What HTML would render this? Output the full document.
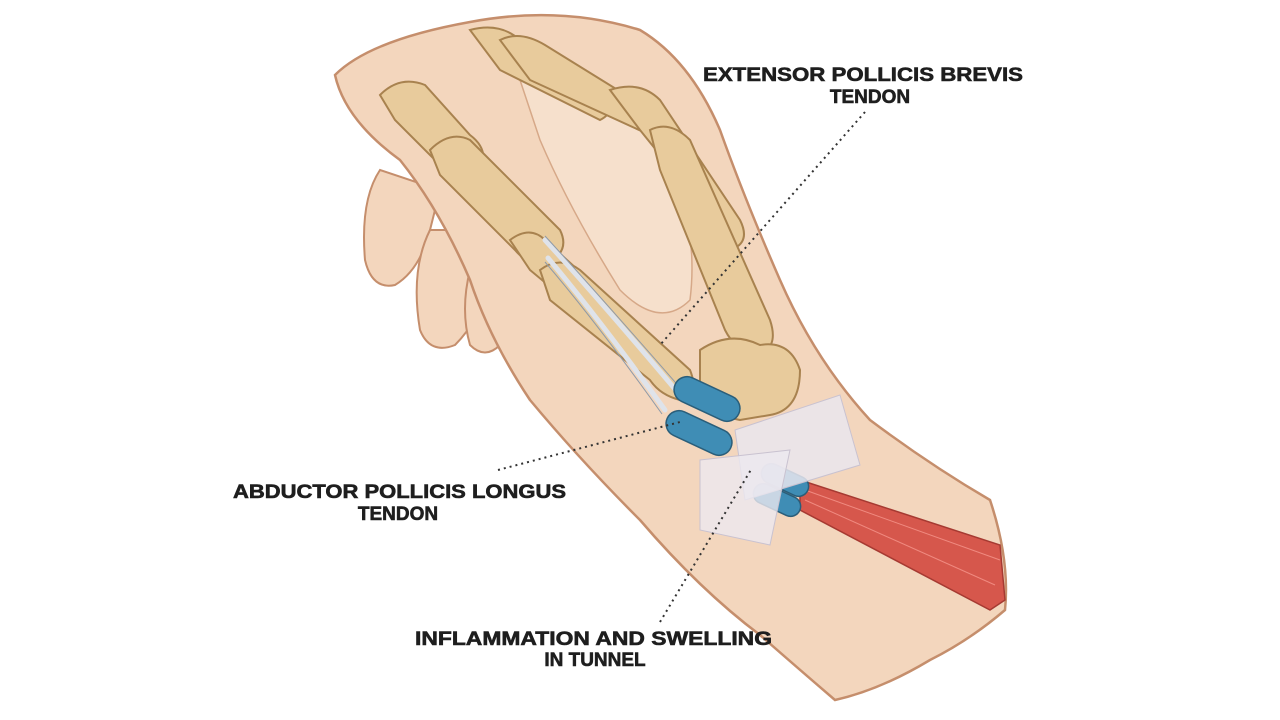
<!DOCTYPE html>
<html><head><meta charset="utf-8"><style>
html,body{margin:0;padding:0;background:#fff;}
svg{display:block}
text{font-family:"Liberation Sans",sans-serif;font-weight:bold;fill:#1e1e1e;stroke:#1e1e1e;stroke-width:0.6;font-size:19px}
</style></head><body>
<svg width="1280" height="720" viewBox="0 0 1280 720" xmlns="http://www.w3.org/2000/svg">
<rect width="1280" height="720" fill="#fff"/>
<g fill="#f3d6bd" stroke="#c58e6c" stroke-width="2">
<path d="M380 170 Q360 200 365 260 Q372 290 395 285 Q420 270 430 230 L440 190 Z"/>
<path d="M430 230 Q410 270 420 330 Q430 355 455 345 Q480 320 490 280 L480 230 Z"/>
<path d="M470 270 Q460 310 470 345 Q485 360 500 345 Q520 320 520 290 Z"/>
</g>
<path d="M335 75 Q370 40 470 22 Q560 5 640 30 Q690 60 720 130 Q745 200 780 280 Q815 360 870 420 Q930 465 990 500 Q1010 560 1005 610 Q970 640 930 660 Q880 690 835 700 Q800 670 760 635 Q700 590 640 520 Q580 460 530 400 Q490 340 470 280 Q440 210 400 160 Q345 120 335 75 Z" fill="#f3d6bd" stroke="#c58e6c" stroke-width="2.5"/>
<path d="M520 80 Q600 60 660 140 Q700 220 690 300 Q660 330 620 290 Q570 210 540 140 Z" fill="#f6e0cc" stroke="#d6a888" stroke-width="1.5"/>
<g fill="#e8cb9c" stroke="#a8824f" stroke-width="2">
<path d="M380 95 Q400 75 425 85 L470 135 Q490 150 480 170 Q460 180 440 165 L395 120 Z"/>
<path d="M430 150 Q450 130 470 140 L560 230 Q570 250 550 262 Q530 268 515 250 L440 175 Z"/>
<path d="M510 240 Q530 225 545 240 L600 290 Q610 310 590 320 L530 270 Z"/>
<path d="M470 30 Q500 22 520 40 L600 90 Q620 110 600 120 L500 70 Z"/>
<path d="M500 40 Q520 30 545 45 L650 110 Q665 125 650 135 L530 80 Z"/>
<path d="M610 90 Q640 80 660 100 L740 220 Q750 240 735 248 L640 130 Z"/>
<path d="M650 130 Q670 120 690 140 L770 320 Q780 350 755 355 Q735 350 725 330 L660 170 Z"/>
<path d="M540 270 Q560 255 580 270 L690 370 Q700 395 680 400 Q660 395 650 380 L550 300 Z"/>
<path d="M700 350 Q730 330 760 345 Q790 340 800 370 Q800 410 770 415 L740 420 Q710 415 700 390 Z"/>
</g>
<g stroke="#dfe3ea" stroke-width="5" fill="none" stroke-linecap="round">
<path d="M545 240 Q600 300 680 395"/>
<path d="M548 258 Q600 320 665 410"/>
</g>
<g stroke="#8f9aa8" stroke-width="1" fill="none">
<path d="M545 236 Q600 296 682 390"/>
<path d="M545 262 Q598 324 662 414"/>
</g>
<path d="M800 480 L1000 545 L1005 600 L990 610 L800 510 Z" fill="#d6574c" stroke="#a63a32" stroke-width="1.5"/>
<g stroke="#f08a80" stroke-width="1"><line x1="805" y1="490" x2="1000" y2="560"/><line x1="805" y1="500" x2="995" y2="585"/></g>
<g fill="#3f8db5" stroke="#2a5e7a" stroke-width="1.5">
<rect x="672" y="386" width="70" height="26" rx="13" transform="rotate(25 707 399)"/>
<rect x="664" y="420" width="70" height="26" rx="13" transform="rotate(25 699 433)"/>
<rect x="760" y="470" width="50" height="20" rx="10" transform="rotate(25 785 480)"/>
<rect x="752" y="490" width="50" height="20" rx="10" transform="rotate(25 777 500)"/>
</g>
<path d="M735 430 L840 395 L860 465 L745 500 Z" fill="#e9e6ee" fill-opacity="0.85" stroke="#c9c2d0"/>
<path d="M700 460 L790 450 L770 545 L700 530 Z" fill="#ece9f0" fill-opacity="0.8" stroke="#c9c2d0"/>
<g stroke="#333" stroke-width="2" stroke-dasharray="2 4" fill="none">
<line x1="865" y1="112" x2="660" y2="345"/>
<line x1="498" y1="470" x2="680" y2="422"/>
<line x1="660" y1="622" x2="752" y2="468"/>
</g>
<text x="703" y="81" textLength="320" lengthAdjust="spacingAndGlyphs">EXTENSOR POLLICIS BREVIS</text>
<text x="870" y="103" text-anchor="middle">TENDON</text>
<text x="233" y="498" textLength="333" lengthAdjust="spacingAndGlyphs">ABDUCTOR POLLICIS LONGUS</text>
<text x="398" y="520" text-anchor="middle">TENDON</text>
<text x="415" y="645" textLength="357" lengthAdjust="spacingAndGlyphs">INFLAMMATION AND SWELLING</text>
<text x="595" y="666" text-anchor="middle">IN TUNNEL</text>
</svg>
</body></html>
